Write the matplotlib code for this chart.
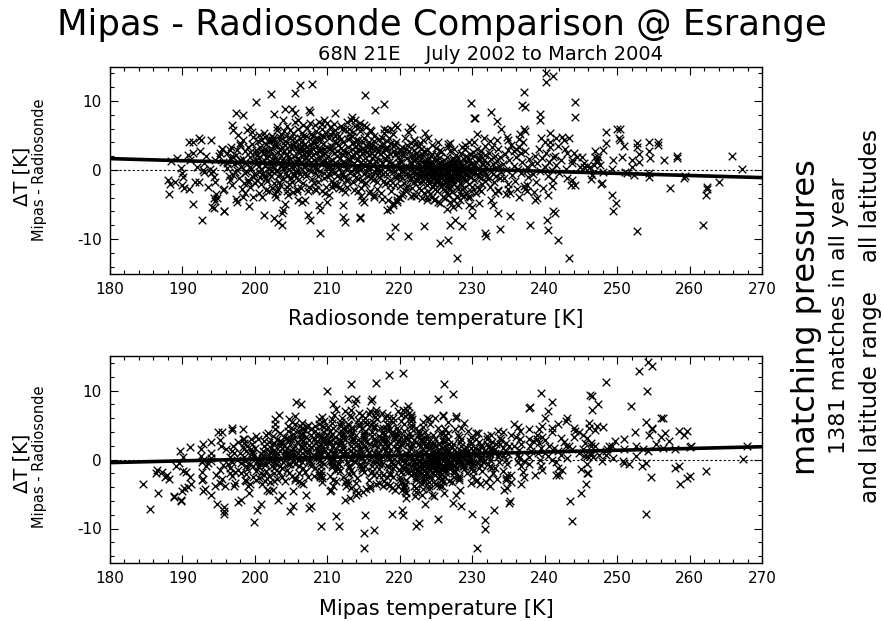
import matplotlib
matplotlib.use('Agg')
import matplotlib.pyplot as plt
from matplotlib.ticker import MultipleLocator
import numpy as np

plt.rcParams['font.family'] = ['DejaVu Sans']
plt.rcParams['axes.unicode_minus'] = False

# (radiosonde temperature [K], Mipas - Radiosonde [K])
left_186_196 = [(188.0,-1.5),(188.3,-2.0),(188.1,-3.5),(188.4,1.3),(189.2,1.8),(189.0,-1.8),(190.0,-0.5),(190.1,-1.0),
    (190.0,-2.2),(190.2,-2.6),(190.9,-2.8),(189.8,0.3),(190.7,2.2),(190.9,4.0),(191.4,4.0),(192.3,4.6),(192.5,4.3),
    (194.0,4.35),(191.5,-4.9),(192.7,-7.2),(192.3,-1.8),(191.0,1.5),(191.5,2.5),(192.0,0.5),(192.4,2.8),(193.0,1.0),
    (193.3,2.0),(193.8,0.2),(194.0,-0.5),(194.2,-0.2),(194.5,1.5),(195.0,2.0),(195.2,2.5),(195.5,3.0),(195.6,1.2),
    (194.3,-1.0),(194.5,-1.8),(194.7,-3.5),(194.8,-4.0),(194.4,-5.5),(194.5,-4.5),(195.7,-2.8),(195.8,-6.0),(193.0,-0.3),
    (192.8,0.0),(193.5,-2.5),(191.8,-1.7),(194.1,-5.3),(194.3,-4.1),(195.6,-2.9),(195.7,-5.9)]
edge_196_200 = [(197.4,8.3),(198.4,8.0),(196.8,6.5),(197.0,5.8),(197.7,5.1),(198.9,5.8),(199.3,6.3),(199.6,5.5),
    (199.8,4.8),(198.4,4.35),(197.9,3.6),(199.1,3.4),(197.5,2.9),(196.6,2.9),(196.1,2.4),(195.4,3.0),(197.0,1.9),
    (197.95,1.45),(199.3,1.9),(200.2,2.4),(198.6,1.0),(199.3,0.5),(196.1,1.0),(197.5,0.0),(198.6,-0.5),(199.8,-1.0),
    (197.0,-0.7),(196.6,-1.45),(198.5,-1.9),(199.1,-1.45),(199.3,-2.4),(200.0,-1.9),(197.4,-4.25),(197.5,-4.6),
    (198.4,-3.9),(198.6,-3.4),(199.2,-5.2),(199.8,-3.9),(200.1,9.9)]
edge_200_215 = [(202.2,11.0),(205.6,11.1),(206.2,12.3),(207.9,12.5),(215.2,10.9),(202.7,8.1),(204.1,8.8),(205.1,8.8),
    (205.6,8.2),(207.5,8.7),(207.6,8.45),(211.0,8.2),(203.9,7.3),(205.5,7.0),(206.0,7.2),(207.6,6.8),(208.3,6.5),
    (209.5,7.2),(209.9,6.8),(209.2,6.0),(211.1,5.8),(212.0,6.0),(213.4,7.7),(213.8,7.2),(214.5,6.8),(215.0,6.5),
    (212.7,7.0),(203.0,5.8),(203.5,4.8),(201.4,4.8),(201.9,4.1),(202.3,4.35),(200.5,5.1),
    (200.95,-3.9),(201.9,-3.1),(202.9,-3.9),(203.2,-2.7),(204.4,-2.4),(204.6,-3.6),(205.8,-3.1),(206.5,-4.6),
    (206.9,-4.35),(206.0,-4.35),(204.1,-4.9),(203.9,-5.8),(203.8,-6.2),(201.3,-6.5),(202.7,-6.9),(203.2,-7.5),
    (203.7,-7.97),(207.4,-6.5),(207.6,-7.3),(209.0,-9.1),(208.8,-5.1),(209.0,-5.8),(209.9,-4.6),(209.7,-3.4),
    (210.6,-2.4),(211.1,-2.2),(212.0,-2.7),(212.2,-5.1),(212.1,-6.8),(212.4,-7.5),(214.5,-7.0),(214.8,-4.35),
    (214.3,-3.1),(208.3,-2.7),(208.1,-1.95),(209.2,-3.1),(210.2,-3.6)]
edge_215_230 = [(216.6,8.7),(217.8,9.5),(229.8,9.7),(215.9,5.8),(217.8,6.0),(218.2,5.8),(219.4,6.5),(219.6,6.3),
    (221.4,6.3),(221.7,6.0),(223.5,5.3),(223.9,4.6),(225.3,4.1),(226.7,3.8),(226.9,3.9),(229.0,3.6),(229.5,4.1),
    (221.9,4.35),(222.8,3.9),
    (215.0,-4.6),(216.5,-3.9),(215.9,-3.1),(218.2,-5.8),(218.7,-5.6),(219.1,-5.1),(219.6,-4.7),(220.05,-4.1),
    (220.5,-3.4),(219.4,-8.2),(218.7,-9.6),(221.2,-9.6),(223.3,-8.1),(225.6,-10.6),(226.7,-10.2),(226.9,-7.97),
    (227.6,-7.25),(228.6,-8.1),(227.9,-12.8),(214.5,-6.8),(226.5,-5.6),(227.4,-5.3),(228.1,-5.1),(225.6,-4.8),
    (224.7,-4.35),(221.9,-3.6),(223.7,-3.9)]
edge_229_244 = [(240.2,14.1),(240.2,12.8),(241.2,13.6),(237.1,11.3),(236.9,9.4),(237.3,9.2),(230.4,7.6),(230.3,7.5),
    (232.6,8.4),(233.4,7.1),(234.0,6.0),(239.3,8.1),(239.3,7.2),(244.2,9.9),(244.2,7.7),(237.1,6.0),(237.3,5.6),
    (230.6,5.2),(231.6,4.7),(233.4,4.4),(234.8,4.8),(234.9,4.35),(236.4,3.3),(235.7,2.7),(240.1,4.1),(240.8,5.3),
    (241.5,4.6),(242.4,4.8),(243.3,4.7),(240.8,3.3),(241.1,1.9),(242.8,3.1),(243.1,2.4),(243.8,1.45),
    (229.7,-3.9),(229.5,-5.1),(230.0,-5.3),(230.9,-4.8),(230.0,-6.5),(231.8,-9.2),(231.9,-9.6),(233.6,-6.3),
    (233.9,-8.6),(235.2,-6.7),(232.6,-4.35),(232.9,-5.1),(233.6,-3.1),(235.0,-2.7),(236.4,-3.9),(237.3,-2.7),
    (237.5,-2.2),(238.7,-4.35),(238.9,-4.1),(238.0,-7.97),(240.3,-7.25),(240.4,-3.6),(241.0,-2.3),(241.2,-6.0),
    (241.4,-6.3),(240.5,-8.7),(241.8,-10.1),(243.4,-12.8),(243.7,-2.2),(243.1,-1.2)]
right_244_270 = [(248.5,5.5),(248.5,3.96),(250.0,6.0),(250.4,6.0),(250.2,4.6),(250.4,4.35),(250.9,3.5),(250.7,1.9),
    (252.7,3.9),(252.7,3.3),(254.4,4.1),(254.4,2.7),(255.6,4.1),(255.7,3.6),(254.6,1.7),(253.0,2.3),(253.0,1.2),
    (252.1,1.45),(252.3,-0.7),(252.1,0.5),(256.5,1.45),(258.2,1.8),(258.2,2.0),(265.9,2.0),(267.3,0.1),(248.1,2.9),
    (247.0,2.7),(247.2,1.45),(247.4,1.9),(247.7,0.7),(249.5,1.45),(249.3,0.2),(248.1,-0.25),(251.1,-0.25),
    (251.4,-0.5),(254.4,-0.97),(254.4,-0.48),(257.3,-2.6),(259.2,-1.2),(259.4,-0.87),(262.4,-2.4),(262.4,-2.7),
    (262.3,-3.6),(264.0,-1.7),(261.9,-7.97),(252.7,-8.9),(249.3,-3.6),(249.8,-4.8),(249.5,-6.0),(247.9,-1.9),
    (247.8,-2.0),(246.4,-1.35),(246.5,-0.7),(244.2,-2.2),(243.8,-1.45),(244.5,1.9),(245.1,1.9),(244.9,0.5),
    (245.4,0.5),(244.0,2.4),(247.0,1.9),(245.8,0.6),(246.3,0.4),(245.4,0.97),(246.8,0.7),(243.8,0.97),(247.2,1.2)]
core_196_204 = [(196.2,0.3),(196.4,-0.8),(196.5,1.8),(196.7,3.4),(196.9,-2.2),(197.1,0.9),(197.2,-0.3),(197.4,2.2),
    (197.6,1.2),(197.8,-1.2),(197.9,3.9),(198.1,0.4),(198.2,-2.8),(198.4,1.6),(198.6,2.7),(198.8,-0.2),(198.9,0.9),
    (199.1,-1.8),(199.3,2.6),(199.5,0.1),(199.6,3.8),(199.8,1.3),(199.9,-0.6),
    (200.1,0.8),(200.2,2.9),(200.3,-1.4),(200.4,4.2),(200.5,1.7),(200.6,-0.3),(200.7,3.3),(200.8,0.2),(200.9,-2.1),
    (201.0,1.1),(201.1,2.4),(201.2,5.3),(201.3,-0.9),(201.4,0.6),(201.5,3.7),(201.6,1.9),(201.7,-1.6),(201.8,2.8),
    (201.9,0.1),(202.0,4.5),(201.5,-2.9),(200.6,-3.4),(201.9,-0.5),(200.3,2.2),(201.2,1.4),
    (202.1,1.3),(202.2,-0.8),(202.3,3.1),(202.4,5.0),(202.5,0.4),(202.6,2.2),(202.7,-1.9),(202.8,1.7),(202.9,3.8),
    (203.0,0.0),(203.1,-3.0),(203.2,2.6),(203.3,1.0),(203.4,4.4),(203.5,-0.6),(203.6,2.0),(203.7,0.6),(203.8,3.3),
    (203.9,-1.3),(204.0,5.6),(202.4,-2.6),(202.9,-0.2),(203.3,-1.7),(203.7,1.5),(202.2,0.9),(204.0,2.7),(203.9,0.3),
    (202.6,4.3),(203.1,6.2),(202.8,-3.5)]
core_204_212 = [(204.1,1.1),(204.2,3.6),(204.3,-0.4),(204.4,2.3),(204.5,6.4),(204.6,0.8),(204.7,-2.0),(204.8,4.7),
    (204.9,1.6),(205.0,-1.2),(205.1,3.0),(205.2,0.3),(205.3,5.3),(205.4,2.1),(205.5,-0.7),(205.6,4.0),(205.7,1.3),
    (205.8,-2.8),(205.9,2.7),(206.0,0.0),(206.0,6.0),(205.3,-3.2),(204.5,-3.1),(204.9,3.6),(205.6,0.9),(204.3,4.9),
    (205.1,-1.8),(205.8,3.4),(204.7,0.2),(206.0,-1.5),
    (206.1,2.4),(206.2,-0.6),(206.3,4.1),(206.4,1.0),(206.5,5.4),(206.6,-1.9),(206.7,2.9),(206.8,0.4),(206.9,3.7),
    (207.0,-0.9),(207.1,1.8),(207.2,6.1),(207.3,0.7),(207.4,2.3),(207.5,-2.4),(207.6,4.5),(207.7,1.2),(207.8,-0.2),
    (207.9,3.2),(208.0,5.0),(206.4,-2.6),(207.0,4.9),(206.8,1.6),(207.5,0.0),(206.2,3.0),(207.9,-1.3),(206.6,6.5),
    (207.3,-3.1),(207.7,2.7),(208.0,0.9),
    (208.1,1.5),(208.2,3.9),(208.3,-0.5),(208.4,2.6),(208.5,5.7),(208.6,0.2),(208.7,-1.8),(208.8,4.3),(208.9,1.9),
    (209.0,-0.2),(209.1,3.1),(209.2,6.6),(209.3,0.8),(209.4,2.2),(209.5,-1.2),(209.6,4.8),(209.7,1.4),(209.8,-2.5),
    (209.9,3.4),(210.0,0.5),(208.4,-2.9),(209.0,2.7),(209.3,5.1),(208.6,3.5),(209.8,1.0),(210.0,-0.9),(208.9,7.0),
    (209.6,-0.4),(208.2,0.7),(209.4,3.8),
    (210.1,2.0),(210.2,4.6),(210.3,-0.7),(210.4,1.3),(210.5,3.5),(210.6,0.1),(210.7,-1.6),(210.8,5.5),(210.9,2.5),
    (211.0,-0.3),(211.1,1.0),(211.2,3.9),(211.3,-2.2),(211.4,2.8),(211.5,0.6),(211.6,4.9),(211.7,-1.1),(211.8,1.7),
    (211.9,3.2),(212.0,-0.5),(210.4,6.2),(211.0,5.0),(211.6,-2.6),(210.8,-2.0),(211.3,0.9),(210.2,0.4),(211.9,6.4),
    (210.6,2.9),(211.4,-0.8),(212.0,2.3)]
core_212_220 = [(212.1,1.2),(212.2,4.0),(212.3,-1.0),(212.4,2.4),(212.5,6.0),(212.6,0.3),(212.7,-2.4),(212.8,3.4),
    (212.9,1.6),(213.0,5.2),(213.1,-0.4),(213.2,2.0),(213.3,7.2),(213.4,0.7),(213.5,-1.7),(213.6,3.9),(213.7,1.0),
    (213.8,6.4),(213.9,-0.2),(214.0,2.6),(212.4,-3.2),(213.1,4.6),(213.7,-2.9),(212.7,0.9),(213.4,3.0),(212.2,-0.6),
    (213.9,4.4),(212.9,-1.4),(213.6,5.5),(214.0,-1.0),
    (214.1,1.4),(214.2,3.7),(214.3,-1.3),(214.4,2.1),(214.5,5.6),(214.6,0.2),(214.7,-2.6),(214.8,3.0),(214.9,0.9),
    (215.0,4.6),(215.1,-0.6),(215.2,1.8),(215.3,6.2),(215.4,-1.9),(215.5,2.6),(215.6,0.4),(215.7,4.1),(215.8,-3.3),
    (215.9,1.1),(216.0,3.2),(214.6,-3.8),(215.1,-2.1),(215.5,5.1),(214.3,4.4),(215.8,0.0),(214.9,2.4),(216.0,-1.2),
    (214.2,0.5),(215.3,-0.2),(215.7,2.2),
    (216.1,0.8),(216.2,3.6),(216.3,-1.5),(216.4,2.0),(216.5,5.0),(216.6,-0.3),(216.7,1.3),(216.8,-2.7),(216.9,3.2),
    (217.0,0.5),(217.1,4.5),(217.2,-1.0),(217.3,2.3),(217.4,-3.4),(217.5,1.0),(217.6,3.8),(217.7,-0.6),(217.8,5.4),
    (217.9,1.7),(218.0,-2.0),(216.5,-3.6),(217.3,0.0),(216.3,3.0),(217.9,3.1),(216.9,-1.8),(217.5,-4.2),(216.1,-0.9),
    (217.7,2.6),
    (218.1,1.5),(218.2,-0.6),(218.3,3.3),(218.4,0.2),(218.5,4.7),(218.6,-1.4),(218.7,2.3),(218.8,-3.0),(218.9,1.0),
    (219.0,5.2),(219.1,-0.3),(219.2,2.8),(219.3,-2.2),(219.4,0.7),(219.5,4.0),(219.6,-1.1),(219.7,1.9),(219.8,-3.9),
    (219.9,0.3),(220.0,3.0),(218.4,-4.4),(219.0,-4.8),(219.6,-4.3),(218.8,6.0),(219.3,3.6),(218.2,2.1),(219.8,2.5),
    (220.0,-2.3)]
core_220_228 = [(220.1,1.2),(220.2,-0.8),(220.3,3.4),(220.4,0.0),(220.5,2.2),(220.6,-1.9),(220.7,4.6),(220.8,0.6),
    (220.9,-3.1),(221.0,1.8),(221.1,-0.4),(221.2,5.5),(221.3,2.7),(221.4,-1.5),(221.5,0.9),(221.6,3.9),(221.7,-2.6),
    (221.8,1.4),(221.9,-0.1),(222.0,2.9),(220.3,-3.6),(221.0,-2.3),(221.5,-3.8),(220.8,3.0),(221.9,4.4),(220.5,-0.2),
    (221.3,0.4),(222.0,-1.8),(220.1,2.8),(221.7,1.0),
    (222.1,0.5),(222.2,-1.3),(222.3,2.4),(222.4,-0.4),(222.5,1.1),(222.6,-2.6),(222.7,3.5),(222.8,0.0),(222.9,-1.8),
    (223.0,1.9),(223.1,-0.7),(223.2,4.4),(223.3,0.8),(223.4,-3.3),(223.5,2.6),(223.6,-1.0),(223.7,0.3),(223.8,-2.2),
    (223.9,1.5),(224.0,-0.3),(222.3,-3.7),(223.0,-4.1),(223.7,-4.4),(222.9,3.0),(223.4,1.3),(222.5,-0.9),(223.8,2.9),
    (222.1,3.8),(223.2,-1.6),(224.0,0.8),(222.7,-0.1),(223.5,-0.6),(223.9,-1.4),(222.4,1.7),(223.1,2.3),
    (224.1,-0.5),(224.2,1.0),(224.3,-1.6),(224.4,0.2),(224.5,2.3),(224.6,-2.4),(224.7,-0.1),(224.8,1.4),(224.9,-1.0),
    (225.0,3.2),(225.1,0.5),(225.2,-3.0),(225.3,-0.7),(225.4,1.8),(225.5,-1.9),(225.6,0.1),(225.7,2.6),(225.8,-1.2),
    (225.9,0.7),(226.0,-2.8),(224.2,-3.5),(224.8,-4.2),(225.3,-4.6),(225.9,-3.9),(224.4,3.6),(225.0,-0.3),(225.6,1.2),
    (224.6,0.9),(225.2,2.2),(225.8,-0.4),(224.3,-0.9),(224.9,0.0),(225.4,-1.4),(226.0,0.3),(224.7,-2.0),(225.7,-2.3),
    (224.1,1.7),(225.1,-1.7),(225.5,0.6),(224.5,-0.2),
    (226.1,-0.6),(226.2,0.8),(226.3,-1.8),(226.4,0.1),(226.5,1.9),(226.6,-2.5),(226.7,-0.3),(226.8,1.1),(226.9,-1.3),
    (227.0,2.7),(227.1,0.4),(227.2,-3.2),(227.3,-0.8),(227.4,1.5),(227.5,-2.0),(227.6,-0.1),(227.7,2.2),(227.8,-1.1),
    (227.9,0.6),(228.0,-2.7),(226.3,-4.1),(226.9,-4.7),(227.5,-4.3),(227.9,-3.8),(226.6,3.3),(227.2,0.2),(227.7,-0.5),
    (226.4,-1.1),(227.0,-1.6),(227.6,1.0),(226.2,-2.9),(226.8,-0.9),(227.3,1.8),(227.9,-1.5),(226.5,0.4),(227.1,-2.3),
    (227.8,0.9),(226.7,-3.6),(227.4,-0.4),(228.0,0.2)]
core_228_243 = [(228.1,-0.8),(228.2,1.2),(228.3,-1.9),(228.4,0.3),(228.5,2.5),(228.6,-2.8),(228.7,-0.2),(228.8,1.6),
    (228.9,-1.2),(229.0,3.0),(229.1,0.5),(229.2,-3.3),(229.3,-0.6),(229.4,1.8),(229.5,-2.0),(229.6,0.0),(229.7,2.3),
    (229.8,-1.0),(229.9,0.8),(230.0,-2.5),(228.3,-4.3),(228.8,-3.7),(229.4,-3.9),(228.6,3.4),(229.2,1.1),(228.4,-0.9),
    (229.0,-1.5),(229.6,1.4),(228.2,0.0),(229.8,-0.3),
    (230.1,0.6),(230.2,-1.4),(230.3,2.0),(230.4,-0.3),(230.5,1.2),(230.6,-2.4),(230.7,3.1),(230.8,0.1),(230.9,-1.0),
    (231.0,1.7),(231.1,-0.5),(231.2,2.8),(231.3,-2.0),(231.4,0.9),(231.5,-0.1),(231.6,1.5),(231.7,-1.6),(231.8,3.5),
    (231.9,0.4),(232.0,-0.8),(230.5,-3.3),(231.2,-3.0),(231.7,2.2),(230.3,4.0),(231.0,0.3),
    (232.1,1.0),(232.2,-1.3),(232.3,2.4),(232.4,0.0),(232.5,-2.4),(232.6,1.6),(232.7,3.3),(232.8,-0.6),(232.9,0.8),
    (233.0,-1.7),(233.1,2.0),(233.2,0.3),(233.3,-0.9),(233.4,1.3),(233.5,-2.9),(233.6,3.0),(233.7,0.6),(233.8,-1.2),
    (233.9,1.9),(234.0,-0.3),(232.4,4.2),(233.2,-3.4),
    (234.2,0.8),(234.4,-1.2),(234.5,2.3),(234.7,0.0),(234.9,-2.0),(235.1,1.4),(235.3,3.6),(235.5,-0.7),(235.7,0.6),
    (235.9,-1.6),(236.1,1.9),(236.3,0.2),(236.5,4.5),(236.7,-0.4),(236.9,1.2),(237.1,-2.3),(237.3,2.8),(237.5,0.4),
    (237.7,-1.0),(237.9,1.6),(236.6,5.2),(237.0,4.0),(236.2,-2.8),(235.2,-3.3),(237.6,-3.0),(236.0,3.0),(235.0,2.9),
    (234.6,-3.5),(237.4,-0.2),(236.8,2.4),
    (238.2,0.9),(238.4,-0.6),(238.6,2.0),(238.8,-1.8),(239.0,1.0),(239.2,3.1),(239.4,-0.1),(239.6,1.7),(239.8,-2.6),
    (240.0,0.5),(240.2,2.5),(240.4,-0.9),(240.6,1.2),(240.8,4.0),(241.0,0.0),(241.2,-1.5),(241.4,2.0),(241.6,0.7),
    (241.8,3.5),(242.0,-0.4),(242.3,1.5),(242.6,4.3),(242.9,0.2),(239.5,4.6),(238.5,-3.2)]
fill_200_212 = [(200.2,1.5),(200.5,0.6),(200.8,2.7),(201.1,-0.4),(201.4,3.1),(201.7,0.9),(202.0,2.0),(202.3,-0.2),
    (202.6,3.6),(202.9,1.2),(203.2,-0.9),(203.5,2.9),(203.8,0.9),(204.1,4.2),(204.4,-0.9),(204.7,2.8),(205.0,1.0),
    (205.3,3.6),(205.6,-0.2),(205.9,1.8),(206.2,4.6),(206.5,0.2),(206.8,2.3),(207.1,3.4),(207.4,1.4),(207.7,5.2),
    (208.0,2.2),(208.3,0.3),(208.6,4.6),(208.9,2.8),(209.2,1.2),(209.5,3.0),(209.8,5.4),(210.1,0.9),(210.4,3.0),
    (210.7,1.5),(211.0,4.2),(211.3,2.0),(211.6,0.1),(211.9,4.5),(200.9,4.4),(201.6,-1.1),(202.5,4.7),(203.4,-2.2),
    (204.2,0.5),(205.2,-0.6),(206.1,1.4),(206.9,-0.4),(207.8,3.8),(208.7,-0.9),(209.6,2.4),(210.5,-0.2),(211.5,3.6),
    (210.9,6.7),(209.1,4.5),(207.2,2.8),(205.4,4.7),(203.6,5.2),(202.1,2.9),(200.7,-1.0),(204.9,5.8),(206.7,5.0),
    (208.5,1.1),(210.3,5.2),(211.8,0.9),(201.3,2.5),(203.0,3.5),(204.6,1.9),(206.4,3.5),(208.1,4.4)]
fill_212_222 = [(212.2,2.9),(212.5,1.0),(212.8,4.5),(213.1,1.4),(213.4,5.0),(213.7,2.2),(214.0,0.3),(214.3,3.1),
    (214.6,1.1),(214.9,4.0),(215.2,2.9),(215.5,0.9),(215.8,3.6),(216.1,1.7),(216.4,4.2),(216.7,0.2),(217.0,2.7),
    (217.3,1.4),(217.6,4.6),(217.9,0.4),(218.2,3.0),(218.5,1.2),(218.8,3.9),(219.1,0.1),(219.4,2.3),(219.7,-0.7),
    (220.0,1.5),(220.3,-1.2),(220.6,2.6),(220.9,0.3),(221.2,-0.9),(221.5,2.0),(221.8,-0.5),(212.6,-1.5),(213.3,-0.1),
    (214.1,-0.3),(214.8,-1.5),(215.6,-0.9),(216.3,0.7),(217.1,-0.4),(217.8,-1.6),(218.6,-2.2),(219.3,-1.0),
    (220.1,-0.3),(220.8,-2.6),(221.6,-1.2),(212.9,2.5),(213.8,3.4),(214.5,2.9),(215.4,3.5),(216.2,2.4),(217.4,3.3),
    (218.3,4.2),(219.0,3.5),(219.9,1.0),(221.0,3.6),(221.9,2.1),(213.0,6.0),(214.4,6.3),(216.0,5.6)]
fill_222_232 = [(222.2,0.2),(222.4,-1.6),(222.6,0.8),(222.8,-0.8),(223.0,-0.2),(223.2,0.5),(223.4,-1.2),(223.6,0.9),
    (223.8,-0.4),(224.0,-1.9),(224.2,-0.2),(224.4,-1.3),(224.6,0.4),(224.8,-0.6),(225.0,-1.5),(225.2,0.3),
    (225.4,-0.4),(225.6,-1.0),(225.8,0.5),(226.0,-0.9),(226.2,-0.2),(226.4,-1.6),(226.6,0.6),(226.8,-0.4),
    (227.0,-0.9),(227.2,0.9),(227.4,-1.4),(227.6,-0.6),(227.8,0.3),(228.0,-1.2),(228.2,-0.4),(228.4,0.8),
    (228.6,-1.0),(228.8,0.1),(229.0,-0.6),(229.2,-1.6),(229.4,0.4),(229.6,-0.9),(229.8,0.9),(230.0,-0.2),
    (230.3,0.9),(230.6,-0.6),(230.9,1.5),(231.2,-1.2),(231.5,0.8),(231.8,-0.3),(222.5,2.0),(223.3,2.7),(224.3,2.0),
    (225.1,1.4),(226.1,1.4),(227.1,1.3),(228.1,1.7),(229.1,2.1),(230.1,2.6),(231.1,2.2),(222.9,-2.9),(223.9,-3.0),
    (224.9,-2.7),(225.9,-2.1),(226.9,-2.6),(227.9,-2.4),(228.9,-2.6),(229.9,-3.1),(230.9,-2.7),(224.5,-3.9),
    (226.5,-3.3),(228.5,-3.6),(225.5,2.9),(227.5,3.0)]

groups = [left_186_196, edge_196_200, edge_200_215, edge_215_230, edge_229_244, right_244_270,
          core_196_204, core_204_212, core_212_220, core_220_228, core_228_243,
          fill_200_212, fill_212_222, fill_222_232]
pairs = np.array([p for g in groups for p in g])
t_sonde = pairs[:, 0]
delta_t = pairs[:, 1]
t_mipas = t_sonde + delta_t          # Mipas = Radiosonde + difference

fit_x = [180, 270]
fit_top = [1.65, -1.1]
fit_bottom = [-0.45, 1.85]

fig = plt.figure(figsize=(8.84, 6.21), dpi=100)
W, H = 884, 621

def frac_box(l, t, r, b):
    return [l / W, 1 - b / H, (r - l) / W, (b - t) / H]

ax1 = fig.add_axes(frac_box(110, 66.5, 762, 273.5))
ax2 = fig.add_axes(frac_box(110, 356, 762, 563))

for ax, xv, fy, xl in [(ax1, t_sonde, fit_top, 'Radiosonde temperature [K]'),
                       (ax2, t_mipas, fit_bottom, 'Mipas temperature [K]')]:
    ax.plot(fit_x, [0, 0], color='black', lw=0.8, ls=(0, (2, 2)), zorder=1)
    ax.scatter(xv, delta_t, marker='x', s=30, c='black', linewidths=0.95, zorder=2)
    ax.plot(fit_x, fy, color='black', lw=2.6, zorder=3, solid_capstyle='butt')
    ax.set_xlim(180, 270)
    ax.set_ylim(-15, 15)
    ax.xaxis.set_major_locator(MultipleLocator(10))
    ax.xaxis.set_minor_locator(MultipleLocator(2))
    ax.yaxis.set_major_locator(MultipleLocator(10))
    ax.yaxis.set_minor_locator(MultipleLocator(2))
    ax.tick_params(which='both', direction='in', top=True, right=True, width=0.8, labelsize=11, pad=6)
    ax.tick_params(which='major', length=6)
    ax.tick_params(which='minor', length=3)
    for s in ax.spines.values():
        s.set_linewidth(1.0)
    ax.set_xlabel(xl, fontsize=15, labelpad=9)

fig.text(442 / W, 1 - 35 / H, 'Mipas - Radiosonde Comparison @ Esrange', fontsize=25.5,
         ha='center', va='baseline')
fig.text(490 / W, 1 - 60 / H, '68N 21E    July 2002 to March 2004', fontsize=14,
         ha='center', va='baseline')

for yc1, yc2 in [(176, 170), (463, 457)]:
    fig.text(22 / W, 1 - yc1 / H, 'ΔT [K]', fontsize=14, rotation=90, ha='center', va='center')
    fig.text(40 / W, 1 - yc2 / H, 'Mipas - Radiosonde', fontsize=10.5, rotation=90, ha='center', va='center')

fig.text(806 / W, 1 - 317 / H, 'matching pressures', fontsize=23, rotation=90, ha='center', va='center')
fig.text(839 / W, 1 - 316 / H, '1381 matches in all year', fontsize=16, rotation=90, ha='center', va='center')
fig.text(871 / W, 1 - 316 / H, 'and latitude range    all latitudes', fontsize=16.5, rotation=90,
         ha='center', va='center')

fig.savefig('out.png', dpi=100)
